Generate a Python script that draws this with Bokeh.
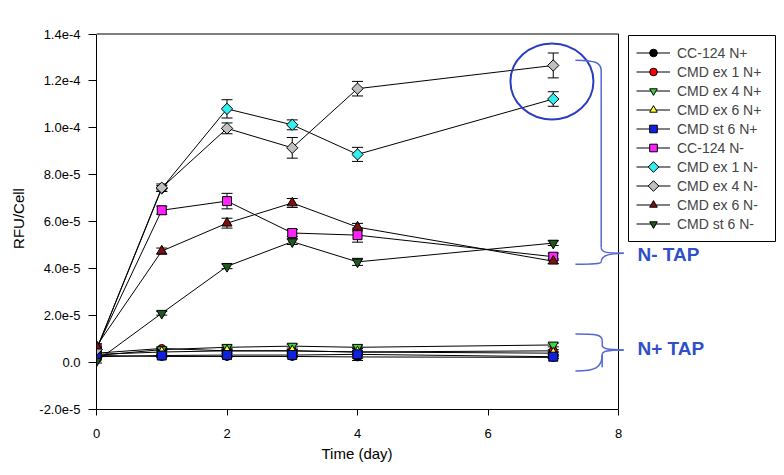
import numpy as np
from bokeh.plotting import figure
from bokeh.models import (ColumnDataSource, Whisker, TeeHead, Legend, LegendItem,
                          Range1d, FixedTicker, Label, Title, CustomJSTickFormatter)
from bokeh.embed import file_html
from bokeh.resources import INLINE

# ---------------- data ----------------
days = [0, 1, 2, 3, 4, 7]

series_names = ["CC-124 N+", "CMD ex 1 N+", "CMD ex 4 N+", "CMD ex 6 N+", "CMD st 6 N+",
                "CC-124 N-", "CMD ex 1 N-", "CMD ex 4 N-", "CMD ex 6 N-", "CMD st 6 N-"]

cc124_np = [3.0e-6, 2.6e-6, 2.6e-6, 2.6e-6, 2.4e-6, 2.2e-6]
ex1_np   = [4.0e-6, 6.0e-6, 5.0e-6, 5.0e-6, 4.5e-6, 5.0e-6]
ex4_np   = [3.0e-6, 5.5e-6, 6.5e-6, 7.0e-6, 6.5e-6, 7.5e-6]
ex6_np   = [3.5e-6, 4.5e-6, 5.0e-6, 5.0e-6, 4.5e-6, 4.0e-6]
st6_np   = [2.5e-6, 3.0e-6, 3.2e-6, 3.2e-6, 3.5e-6, 2.5e-6]
cc124_nm = [6.0e-6, 6.49e-5, 6.88e-5, 5.52e-5, 5.43e-5, 4.51e-5]
ex1_nm   = [5.5e-6, 7.42e-5, 1.081e-4, 1.013e-4, 8.87e-5, 1.123e-4]
ex4_nm   = [5.5e-6, 7.45e-5, 9.98e-5, 9.15e-5, 1.167e-4, 1.266e-4]
ex6_nm   = [7.0e-6, 4.75e-5, 5.94e-5, 6.80e-5, 5.77e-5, 4.32e-5]
st6_nm   = [0.6e-6, 2.10e-5, 4.10e-5, 5.15e-5, 4.29e-5, 5.09e-5]

cc124_np_err = [0.5e-6, 0.4e-6, 0.4e-6, 0.4e-6, 0.5e-6, 0.4e-6]
ex1_np_err   = [0.5e-6, 0.5e-6, 0.5e-6, 0.5e-6, 0.5e-6, 0.5e-6]
ex4_np_err   = [0.5e-6, 0.5e-6, 0.6e-6, 0.8e-6, 0.6e-6, 0.8e-6]
ex6_np_err   = [0.5e-6, 0.5e-6, 0.5e-6, 0.5e-6, 0.5e-6, 0.5e-6]
st6_np_err   = [0.5e-6, 0.6e-6, 0.6e-6, 0.6e-6, 2.6e-6, 0.8e-6]
cc124_nm_err = [1.0e-6, 1.7e-6, 3.3e-6, 1.5e-6, 3.0e-6, 1.5e-6]
ex1_nm_err   = [1.0e-6, 1.2e-6, 3.9e-6, 2.1e-6, 3.0e-6, 3.1e-6]
ex4_nm_err   = [1.0e-6, 1.6e-6, 2.3e-6, 4.4e-6, 3.1e-6, 5.3e-6]
ex6_nm_err   = [1.0e-6, 1.3e-6, 2.1e-6, 1.9e-6, 1.6e-6, 1.0e-6]
st6_nm_err   = [0.8e-6, 0.8e-6, 1.0e-6, 1.2e-6, 1.5e-6, 1.0e-6]

series_values = [cc124_np, ex1_np, ex4_np, ex6_np, st6_np,
                 cc124_nm, ex1_nm, ex4_nm, ex6_nm, st6_nm]
series_errors = [cc124_np_err, ex1_np_err, ex4_np_err, ex6_np_err, st6_np_err,
                 cc124_nm_err, ex1_nm_err, ex4_nm_err, ex6_nm_err, st6_nm_err]

y_ticks = [-2e-5, 0.0, 2e-5, 4e-5, 6e-5, 8e-5, 1e-4, 1.2e-4, 1.4e-4]
y_tick_labels = ["-2.0e-5", "0.0", "2.0e-5", "4.0e-5", "6.0e-5", "8.0e-5",
                 "1.0e-4", "1.2e-4", "1.4e-4"]
x_ticks = [0, 2, 4, 6, 8]
X_MIN, X_MAX = 0, 8
Y_MIN, Y_MAX = -2e-5, 1.4e-4

# ---------------- layout / styles ----------------
W, H = 784, 475
LEFT, TOP, BOTTOM = 96, 27, 66          # px borders
AXIS_W = 522                             # px width of the 0..8 axis
frame_w = W - LEFT
frame_h = H - TOP - BOTTOM
axis_h = 375.5                           # px height of the -2e-5..1.4e-4 axis
x_end = X_MIN + (X_MAX - X_MIN) * frame_w / AXIS_W
y_end = Y_MIN + (Y_MAX - Y_MIN) * frame_h / axis_h
frame_bottom = TOP + frame_h


def sx_to_x(sx):
    return X_MIN + (sx - LEFT) * (X_MAX - X_MIN) / AXIS_W


def sy_to_y(sy):
    return Y_MIN + (frame_bottom - sy) * (Y_MAX - Y_MIN) / axis_h


DIAMOND = np.pi / 4
styles = [
    dict(marker="circle", color="#000000", size=8, angle=0),
    dict(marker="circle", color="#ff0000", size=8, angle=0),
    dict(marker="inverted_triangle", color="#3fd23f", size=10, angle=0),
    dict(marker="triangle", color="#ffff33", size=10, angle=0),
    dict(marker="square", color="#1020e0", size=9, angle=0),
    dict(marker="square", color="#ff22ff", size=9, angle=0),
    dict(marker="square", color="#33eeee", size=8, angle=DIAMOND),
    dict(marker="square", color="#c0c0c0", size=8, angle=DIAMOND),
    dict(marker="triangle", color="#801010", size=10, angle=0),
    dict(marker="inverted_triangle", color="#1e5a1e", size=10, angle=0),
]

FONT = "Liberation Sans"

p = figure(width=W, height=H, output_backend="svg", toolbar_location=None,
           x_range=Range1d(X_MIN, x_end), y_range=Range1d(Y_MIN, y_end),
           min_border_left=LEFT, min_border_right=0, min_border_top=TOP,
           min_border_bottom=BOTTOM)
p.grid.visible = False
p.outline_line_color = None
p.background_fill_color = "white"
p.border_fill_color = "white"

# axes
p.xaxis.ticker = FixedTicker(ticks=x_ticks)
p.yaxis.ticker = FixedTicker(ticks=y_ticks)
p.xaxis.bounds = (X_MIN, X_MAX)
p.yaxis.bounds = (Y_MIN, Y_MAX)
p.yaxis.formatter = CustomJSTickFormatter(args=dict(vals=y_ticks, labs=y_tick_labels), code="""
for (let i = 0; i < vals.length; i++) { if (Math.abs(tick - vals[i]) < 1e-9) return labs[i]; }
return "";
""")
for ax in (p.xaxis[0], p.yaxis[0]):
    ax.minor_tick_line_color = None
    ax.major_tick_in = 0
    ax.axis_line_color = "black"
    ax.major_tick_line_color = "black"
    ax.major_label_text_font = FONT
    ax.major_label_text_font_size = "13px"
    ax.major_label_text_color = "black"
    ax.axis_label_text_font = FONT
    ax.axis_label_text_font_size = "15px"
    ax.axis_label_text_font_style = "normal"
    ax.axis_label_text_color = "black"
p.xaxis.major_tick_out = 6
p.xaxis.major_label_standoff = 13
p.yaxis.major_tick_out = 8
p.yaxis.major_label_standoff = 8
p.yaxis.axis_label = "RFU/Cell"
p.yaxis.axis_label_standoff = 9

# x-axis title, centred under the 0..8 part of the axis
XLABEL = "Time (day)"
xlabel_w = 72
p.add_layout(Title(text=XLABEL, align="left", offset=AXIS_W / 2 - xlabel_w / 2,
                   text_font=FONT, text_font_size="15px", text_font_style="normal",
                   text_color="black", standoff=4), "below")

# top and right frame borders
p.segment(x0=[X_MIN, X_MAX], y0=[Y_MAX, Y_MIN], x1=[X_MAX, X_MAX], y1=[Y_MAX, Y_MAX],
          line_color="black", line_width=1)

# legend geometry (screen px)
LEG_LEFT, LEG_RIGHT, LEG_BOTTOM, LEG_PAD, ROW_H, GLYPH_W = 628, 775, 241, 8, 19, 34
leg_top = LEG_BOTTOM - (2 * LEG_PAD + ROW_H * len(series_names))
# legend box (drawn beneath the transparent, borderless legend)
p.quad(left=[sx_to_x(LEG_LEFT)], right=[sx_to_x(LEG_RIGHT)],
       top=[sy_to_y(leg_top)], bottom=[sy_to_y(LEG_BOTTOM)],
       fill_color="white", line_color="black", line_width=1)

# series
items = []
diamond_rows = []
for k, (name, vals, errs, st) in enumerate(zip(series_names, series_values,
                                                series_errors, styles)):
    lower = [v - e for v, e in zip(vals, errs)]
    upper = [v + e for v, e in zip(vals, errs)]
    src = ColumnDataSource(dict(x=days, y=vals, lower=lower, upper=upper))
    w = Whisker(base="x", lower="lower", upper="upper", source=src, dimension="height",
                line_color="black", line_width=1,
                upper_head=TeeHead(size=11, line_color="black", line_width=1),
                lower_head=TeeHead(size=11, line_color="black", line_width=1),
                level="underlay")
    p.add_layout(w)
    ln = p.line("x", "y", source=src, line_color="black", line_width=1)
    sc = p.scatter("x", "y", source=src, marker=st["marker"], size=st["size"],
                   angle=st["angle"], fill_color=st["color"], line_color="black",
                   line_width=1)
    if st["angle"]:
        # legend shows markers un-rotated; draw this row's symbol ourselves
        dummy = p.line(x=[], y=[], line_alpha=0)
        items.append(LegendItem(label=name, renderers=[dummy]))
        diamond_rows.append((k, st["color"]))
    else:
        items.append(LegendItem(label=name, renderers=[ln, sc]))

# borderless legend: its content box starts inside the drawn box by LEG_PAD
legend = Legend(items=items,
                location=(LEG_LEFT + LEG_PAD - LEFT, frame_bottom - (LEG_BOTTOM - LEG_PAD)),
                orientation="vertical",
                glyph_width=GLYPH_W, glyph_height=ROW_H, label_height=ROW_H, spacing=0,
                label_standoff=7, padding=0, margin=0,
                label_text_font=FONT, label_text_font_size="14px",
                border_line_color=None, background_fill_alpha=0.0)
p.add_layout(legend, "center")

# diamond legend symbols
row_y = [sy_to_y(leg_top + LEG_PAD + ROW_H * k + ROW_H / 2) for k, _ in diamond_rows]
gx0 = sx_to_x(LEG_LEFT + LEG_PAD)
gx1 = sx_to_x(LEG_LEFT + LEG_PAD + GLYPH_W)
p.segment(x0=[gx0] * len(row_y), y0=row_y, x1=[gx1] * len(row_y), y1=row_y,
          line_color="black", line_width=1)
p.scatter(x=[(gx0 + gx1) / 2] * len(row_y), y=row_y,
          marker="square", angle=DIAMOND, size=7.5,
          fill_color=[c for _, c in diamond_rows], line_color="black", line_width=1)

# annotations: circle and braces
BRACE = "#5468d4"
p.ellipse(x=[6.98], y=[1.198e-4], width=83, height=76, width_units="screen",
          height_units="screen", fill_color=None, line_color="#2a3dbf", line_width=2)

# N- brace
p.bezier(x0=[7.34, 7.735, 8.08, 7.735], y0=[1.288e-4, 4.9e-5, 4.66e-5, 4.30e-5],
         x1=[7.735, 8.08, 7.735, 7.34], y1=[1.242e-4, 4.66e-5, 4.30e-5, 4.19e-5],
         cx0=[7.65, 7.735, 7.80, 7.735], cy0=[1.286e-4, 4.70e-5, 4.66e-5, 4.20e-5],
         cx1=[7.735, 7.80, 7.735, 7.60], cy1=[1.280e-4, 4.66e-5, 4.48e-5, 4.19e-5],
         line_color=BRACE, line_width=1.5)
p.segment(x0=[7.735], y0=[1.242e-4], x1=[7.735], y1=[4.9e-5],
          line_color=BRACE, line_width=1.5)
# N+ brace
p.bezier(x0=[7.34, 7.75, 8.08, 7.75], y0=[1.22e-5, 7.5e-6, 5.4e-6, 3.3e-6],
         x1=[7.75, 8.08, 7.75, 7.34], y1=[9.5e-6, 5.4e-6, 3.3e-6, -3.6e-6],
         cx0=[7.65, 7.75, 7.82, 7.75], cy0=[1.22e-5, 6.0e-6, 5.4e-6, -2.0e-6],
         cx1=[7.75, 7.82, 7.75, 7.65], cy1=[1.20e-5, 5.4e-6, 4.8e-6, -3.6e-6],
         line_color=BRACE, line_width=1.5)
p.segment(x0=[7.75], y0=[9.5e-6], x1=[7.75], y1=[7.5e-6], line_color=BRACE, line_width=1.5)
p.segment(x0=[7.75], y0=[3.3e-6], x1=[7.75], y1=[-2.0e-6], line_color=BRACE, line_width=1.5)

for txt, yv in (("N- TAP", 4.585e-5), ("N+ TAP", 5.8e-6)):
    p.add_layout(Label(x=8.29, y=yv, text=txt, text_baseline="middle", text_align="left",
                       text_font=FONT, text_font_size="19px", text_font_style="bold",
                       text_color="#3050c8"))

open("out.html", "w").write(file_html(p, INLINE))
